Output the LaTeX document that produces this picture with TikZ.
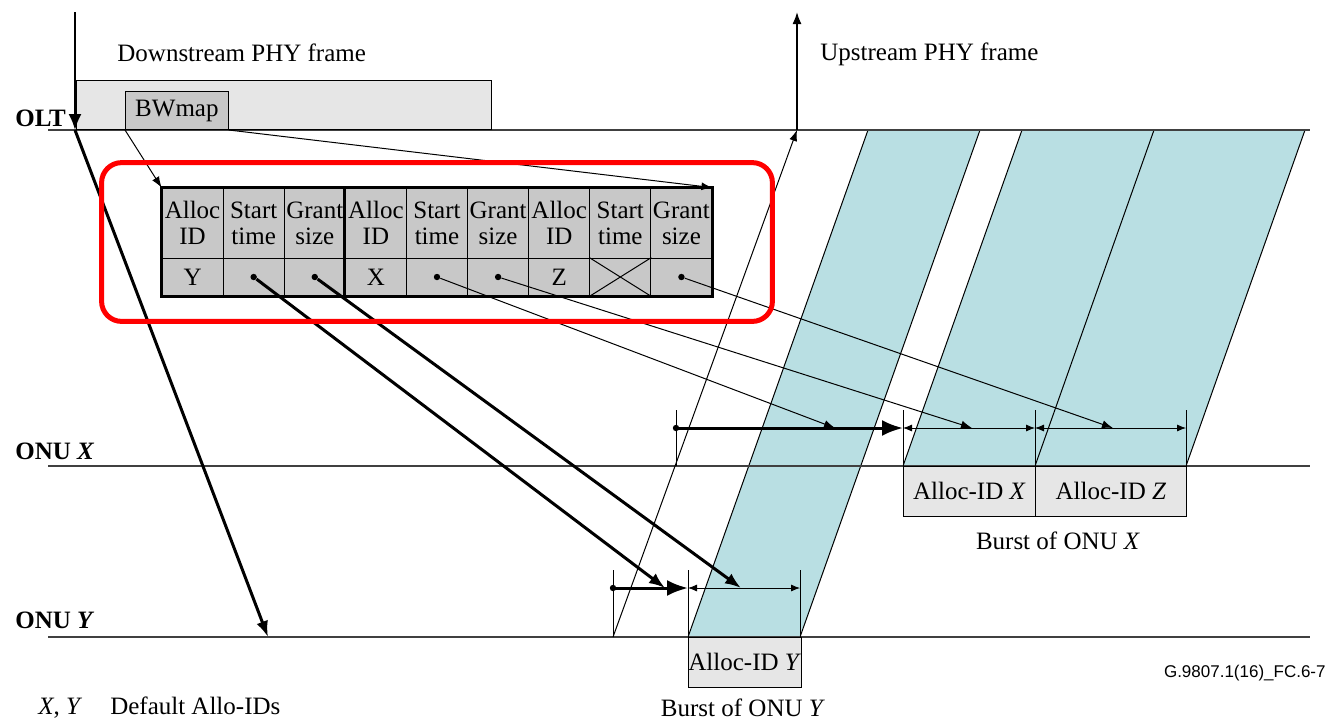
\documentclass[tikz,border=0pt]{standalone}
\usepackage{fontspec}
\setmainfont{Liberation Serif}
\setsansfont{Liberation Sans}
\usetikzlibrary{positioning, fit, calc, arrows.meta}
\definecolor{burstblue}{RGB}{185,223,227}
\definecolor{framegrey}{RGB}{230,230,230}
\definecolor{cellgrey}{RGB}{200,200,200}
\tikzset{lbl/.style={font=\fontsize{12.5}{14}\selectfont, inner sep=0pt},
onu/.style={font=\fontsize{12.5}{14}\selectfont\bfseries, anchor=west, inner sep=0pt},
hcell/.style={draw, fill=cellgrey, minimum width=30.56pt, minimum height=35pt, inner sep=0pt, align=center, font=\fontsize{12.5}{13}\selectfont},
vcell/.style={hcell, minimum height=19pt},
gbox/.style={draw, fill=framegrey, minimum height=25pt, inner sep=0pt, font=\fontsize{12.5}{14}\selectfont},
slimarrow/.style={line width=0.5pt, -{Latex[length=5.5pt,width=4pt]}},
boldarrow/.style={line width=1.5pt, -{Latex[length=8pt,width=6pt]}},
bigarrow/.style={line width=1.5pt, -{Latex[length=10.5pt,width=8pt]}},
dimline/.style={line width=0.4pt, {Latex[length=4.5pt,width=3.5pt]}-{Latex[length=4.5pt,width=3.5pt]}},
gridtick/.style={line width=0.4pt},
timeline/.style={line width=0.7pt, black!75},
burst/.style={fill=burstblue, draw, line width=0.5pt},
bullet/.style={circle, fill, inner sep=0pt, minimum size=3.2pt}
}
\begin{document}
\begin{tikzpicture}[x=0.5pt,y=-0.5pt]
\useasboundingbox (0,0) rectangle (1328,720);
% bursts of the upstream frame
\draw[burst] (688,637) -- (800,637) -- (980,130) -- (868,130) -- cycle;
\draw[burst] (903,466) -- (1186,466) -- (1305,130) -- (1022,130) -- cycle;
\draw[line width=0.5pt] (1035,466) -- (1154,130);
% time lines
\draw[timeline] (48,130) -- (1310,130);
\draw[timeline] (48,466) -- (1310,466);
\draw[timeline] (48,637) -- (1310,637);
\node[onu] (olt) at (15,118) {OLT};
\node[onu] (onux) at (15,451) {ONU \textit{X}};
\node[onu] (onuy) at (15,620) {ONU \textit{Y}};
% downstream frame
\node[gbox, anchor=south west, minimum width=207.5pt, minimum height=24.5pt] (dsframe) at (76,130) {};
\node[gbox, fill=cellgrey, anchor=south west, minimum width=51.5pt, minimum height=19pt] (bwmap) at (125,130) {BWmap};
\node[lbl, anchor=west] (dstext) at (117,53) {Downstream PHY frame};
\node[lbl, anchor=west] (ustext) at (820,54) {Upstream PHY frame};
% BWmap table
\foreach \t [count=\i] in {{Alloc\\ID},{Start\\time},{Grant\\size},{Alloc\\ID},{Start\\time},{Grant\\size},{Alloc\\ID},{Start\\time},{Grant\\size}}
  \node[hcell] (h\i) at ({162+61.11*(\i-0.5)},223) {\t};
\foreach \t [count=\i] in {Y,{},{},X,{},{},Z,{},{}}
  \node[vcell] (v\i) at ({162+61.11*(\i-0.5)},277) {\t};
\draw[line width=1.5pt] (h1.north west) rectangle (v9.south east);
\draw[line width=1.5pt] (h4.north west) -- (v4.south west);
\draw[line width=0.5pt] (v8.north west) -- (v8.south east) (v8.north east) -- (v8.south west);
\node[bullet] (sty) at (v2) {};
\node[bullet] (gsy) at (v3) {};
\node[bullet] (stx) at (v5) {};
\node[bullet] (gsx) at (v6) {};
\node[bullet] (gsz) at (v9) {};
\draw[slimarrow] (bwmap.south west) -- (h1.north west);
\draw[slimarrow] (bwmap.south east) -- (h9.north east);
% downstream and upstream propagation
\coordinate (dtop) at (75,12);
\coordinate (dolt) at (75,130);
\coordinate (dony) at (268,637);
\draw[line width=1pt, -{Latex[length=8pt,width=6.5pt]}] (dtop) -- (dolt);
\draw[boldarrow] (dolt) -- (dony);
\coordinate (uony) at (613,637);
\coordinate (uolt) at (797,130);
\coordinate (utop) at (797,12);
\draw[slimarrow] (uony) -- (uolt);
\draw[line width=0.8pt, -{Latex[length=6pt,width=4.5pt]}] (uolt) -- (utop);
% timing at ONU X
\foreach \x in {676,903,1035,1186} \draw[gridtick] (\x,410) -- (\x,466);
\coordinate (bx0) at (676,428);
\coordinate (bx1) at (903,428);
\coordinate (bx2) at (1035,428);
\coordinate (bx3) at (1186,428);
\node[bullet] at (bx0) {};
\draw[bigarrow] (bx0) -- (bx1);
\draw[dimline] (bx1) -- (bx2);
\draw[dimline] (bx2) -- (bx3);
% timing at ONU Y
\foreach \x in {613,688,800} \draw[gridtick] (\x,570) -- (\x,637);
\coordinate (by0) at (613,588);
\coordinate (by1) at (688,588);
\coordinate (by2) at (800,588);
\node[bullet] at (by0) {};
\draw[bigarrow] (by0) -- (by1);
\draw[dimline] (by1) -- (by2);
% grants
\coordinate (tsy) at (665,588);
\coordinate (tgy) at (741,588);
\coordinate (tsx) at (835,428);
\coordinate (tgx) at (972,428);
\coordinate (tgz) at (1113,428);
\draw[boldarrow] (sty) -- (tsy);
\draw[boldarrow] (gsy) -- (tgy);
\draw[slimarrow] (stx) -- (tsx);
\draw[slimarrow] (gsx) -- (tgx);
\draw[slimarrow] (gsz) -- (tgz);
% bursts
\node[gbox, anchor=north west, minimum width=56pt] (allocy) at (688,637) {Alloc-ID \textit{Y}};
\node[gbox, anchor=north west, minimum width=66pt] (allocx) at (903,466) {Alloc-ID \textit{X}};
\node[gbox, anchor=north west, minimum width=75.5pt] (allocz) at (1035,466) {Alloc-ID \textit{Z}};
\node[lbl] (burstx) at (1058,541) {Burst of ONU \textit{X}};
\node[lbl] (bursty) at (743,708) {Burst of ONU \textit{Y}};
\node[lbl, anchor=west] (note) at (38,708) {\textit{X}, \textit{Y}\hspace{14pt}Default Allo-IDs};
\node[font=\sffamily\fontsize{8.5}{10}\selectfont, anchor=east, inner sep=0pt] (figid) at (1326,673) {G.9807.1(16)\_FC.6-7};
% highlight
\node[draw=red, line width=2.5pt, rounded corners=10pt, fit=(h1)(v9), inner xsep=30pt, inner ysep=12.5pt] (bwbox) {};
\end{tikzpicture}
\end{document}
